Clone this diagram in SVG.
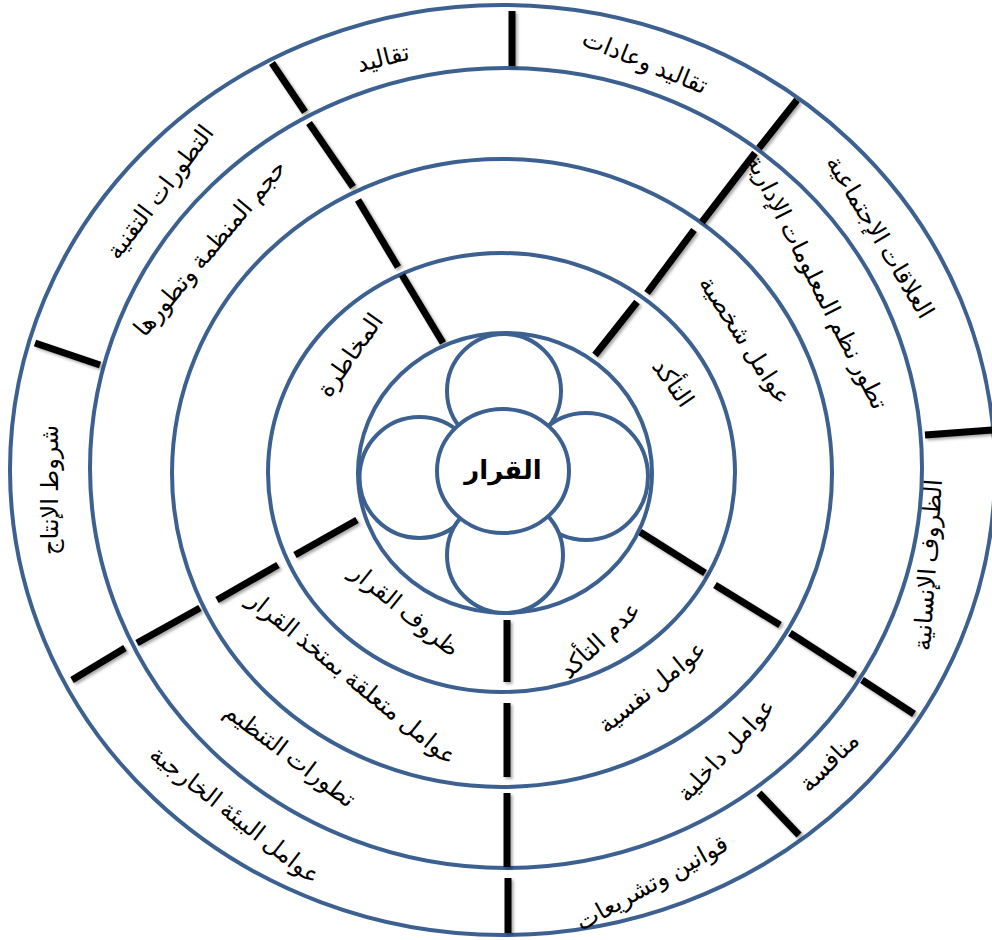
<svg xmlns="http://www.w3.org/2000/svg" width="992" height="940" viewBox="0 0 992 940">
<defs>
<filter id="sh" x="-50%" y="-50%" width="200%" height="200%">
<feDropShadow dx="2" dy="2" stdDeviation="1.5" flood-color="#000" flood-opacity="0.35"/>
</filter>
<style>
.ring{fill:none;stroke:#3C6090;stroke-width:4}
.pet{fill:#fff;stroke:#3C6090;stroke-width:4}
.div line{stroke:#000;stroke-width:7}
text{font-family:"Liberation Serif","DejaVu Sans",serif;font-size:24px;fill:#000;text-anchor:middle}
.b{font-weight:bold;font-size:26px}
</style>
</defs>
<rect width="992" height="940" fill="#fff"/>
<g id="rings">
<ellipse class="ring" cx="502.5" cy="470" rx="492.5" ry="465"/>
<ellipse class="ring" cx="506" cy="468" rx="416" ry="400"/>
<ellipse class="ring" cx="502" cy="473" rx="330" ry="314"/>
<ellipse class="ring" cx="501.5" cy="472.5" rx="233.5" ry="219.5"/>
</g>
<g id="connectors" class="div" filter="url(#sh)">
<line x1="512" y1="11" x2="512" y2="66"/>
<line x1="272" y1="63" x2="305" y2="112"/>
<line x1="797" y1="100" x2="759" y2="148"/>
<line x1="925" y1="435" x2="992" y2="430"/>
<line x1="862" y1="680" x2="914" y2="714"/>
<line x1="759" y1="793" x2="799" y2="835"/>
<line x1="508" y1="878" x2="508" y2="933"/>
<line x1="125" y1="648" x2="72" y2="680"/>
<line x1="35" y1="343" x2="100" y2="365"/>
<line x1="309" y1="123" x2="353" y2="187"/>
<line x1="755" y1="153" x2="702" y2="222"/>
<line x1="790" y1="633" x2="855" y2="675"/>
<line x1="507" y1="793" x2="507" y2="867"/>
<line x1="200" y1="608" x2="137" y2="643"/>
<line x1="358" y1="200" x2="398" y2="267"/>
<line x1="694" y1="230" x2="647" y2="293"/>
<line x1="715" y1="585" x2="780" y2="625"/>
<line x1="507" y1="703" x2="507" y2="777"/>
<line x1="278" y1="565" x2="217" y2="600"/>
<line x1="402" y1="275" x2="443" y2="343"/>
<line x1="637" y1="302" x2="595" y2="355"/>
<line x1="640" y1="532" x2="705" y2="573"/>
<line x1="507" y1="620" x2="507" y2="682"/>
<line x1="357" y1="520" x2="295" y2="555"/>
</g>
<g id="core">
<ellipse class="ring" cx="505" cy="473" rx="147" ry="140"/>
<ellipse class="pet" cx="504" cy="391" rx="57" ry="57"/>
<ellipse class="pet" cx="419.5" cy="477.5" rx="60" ry="60.5"/>
<ellipse class="pet" cx="586" cy="476.5" rx="62" ry="63.5"/>
<ellipse class="pet" cx="505" cy="555" rx="58" ry="58"/>
<ellipse class="pet" cx="503" cy="471" rx="66" ry="62"/>
<text class="b" x="503" y="479">القرار</text>
</g>
<g id="outer-band">
<text transform="translate(383,58) rotate(-14)" y="8">تقاليد</text>
<text transform="translate(645,62) rotate(22)" y="8">تقاليد وعادات</text>
<text transform="translate(880,237) rotate(59)" y="8">العلاقات الإجتماعية</text>
<text transform="translate(928,565) rotate(-86)" y="8">الظروف الإنسانية</text>
<text transform="translate(829,762) rotate(-45)" y="8">منافسة</text>
<text transform="translate(652,883) rotate(-29)" y="8">قوانين وتشريعات</text>
<text transform="translate(235,815) rotate(38)" y="8">عوامل البيئة الخارجية</text>
<text transform="translate(50,490) rotate(-90)" y="8">شروط الإنتاج</text>
<text transform="translate(160,192) rotate(-53)" y="8">التطورات التقنية</text>
</g>
<g id="band2">
<text transform="translate(817,282) rotate(63)" y="8">تطور نظم المعلومات الإدارية</text>
<text transform="translate(726,750) rotate(-47)" y="8">عوامل داخلية</text>
<text transform="translate(290,755) rotate(37)" y="8">تطورات التنظيم</text>
<text transform="translate(210,248) rotate(-50)" y="8">حجم المنظمة وتطورها</text>
</g>
<g id="band3">
<text transform="translate(745,340) rotate(57)" y="8">عوامل شخصية</text>
<text transform="translate(652,687) rotate(-39)" y="8">عوامل نفسية</text>
<text transform="translate(352,678) rotate(39)" y="8">عوامل متعلقة بمتخذ القرار</text>
</g>
<g id="band4">
<text transform="translate(350,355) rotate(-55)" y="8">المخاطرة</text>
<text transform="translate(673,383) rotate(55)" y="8">التأكد</text>
<text transform="translate(600,640) rotate(-43)" y="8">عدم التأكد</text>
<text transform="translate(405,610) rotate(39)" y="8">ظروف القرار</text>
</g>
</svg>
